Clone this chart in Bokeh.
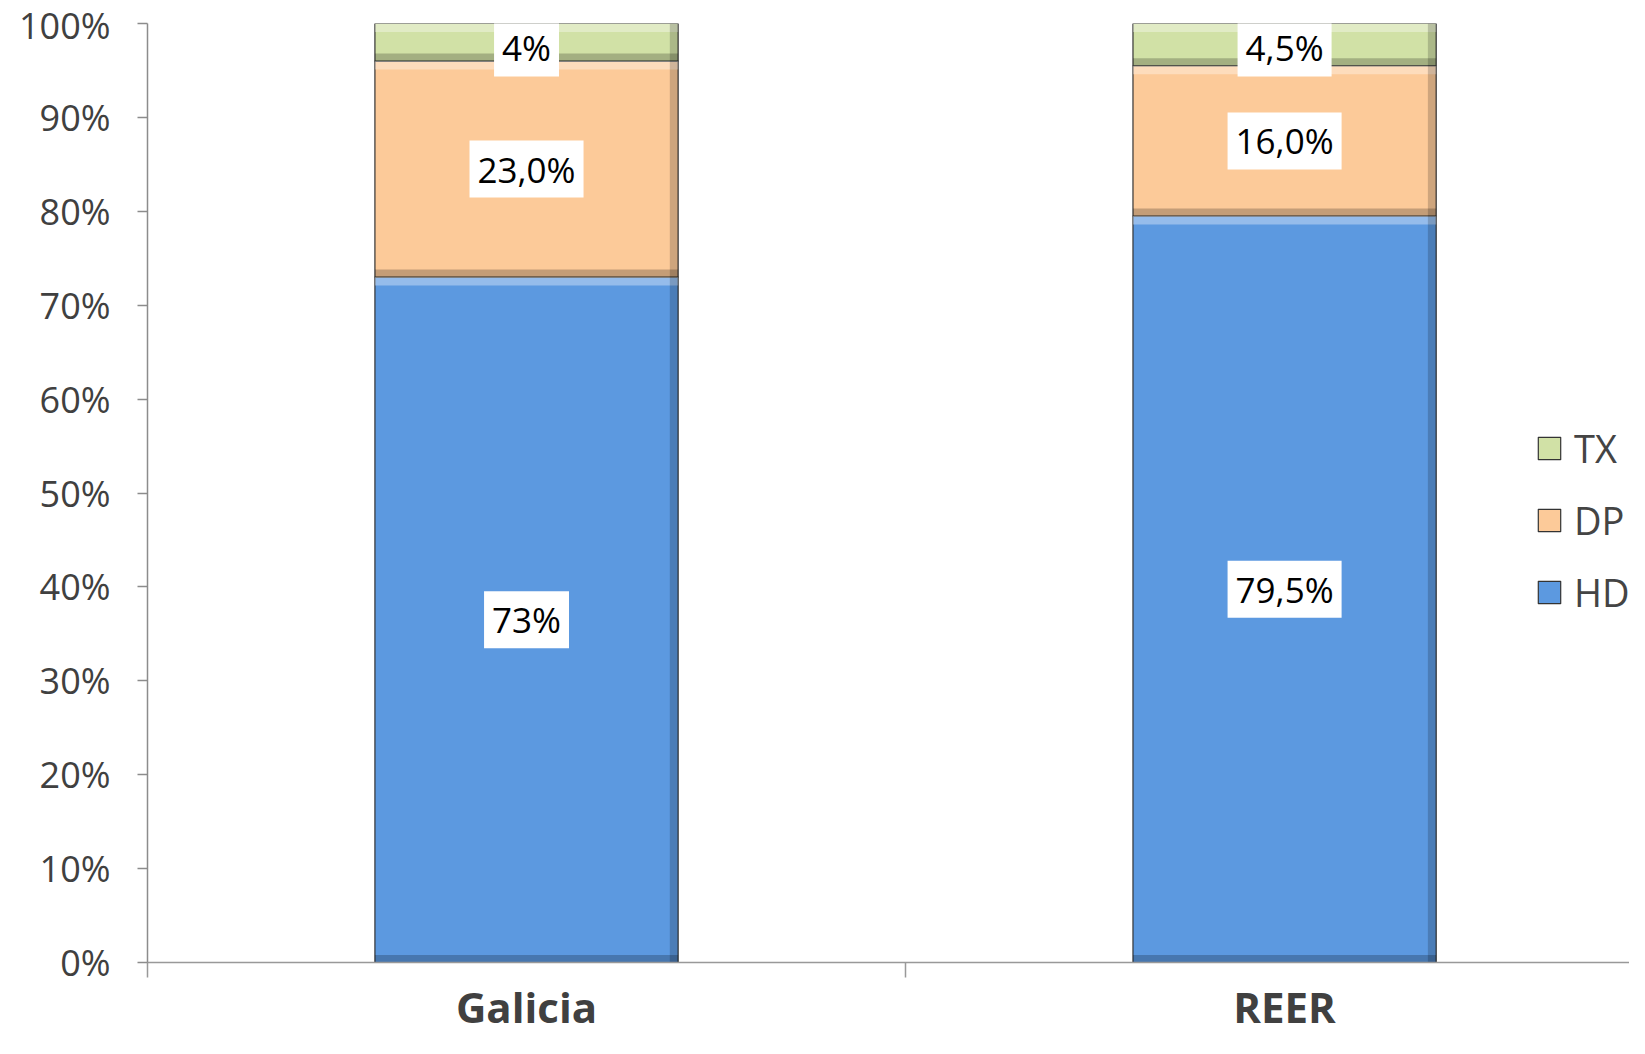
from bokeh.plotting import figure
from bokeh.models import ColumnDataSource, FixedTicker, Legend, LegendItem, Range1d
from bokeh.core.properties import value
from bokeh.embed import file_html
from bokeh.resources import INLINE

# ---- data ----
categories = ["Galicia", "REER"]
series = ["HD", "DP", "TX"]
hd = [73.0, 79.5]
dp = [23.0, 16.0]
tx = [4.0, 4.5]
hd_labels = ["73%", "79,5%"]
dp_labels = ["23,0%", "16,0%"]
tx_labels = ["4%", "4,5%"]
y_ticks = [0, 10, 20, 30, 40, 50, 60, 70, 80, 90, 100]
y_tick_labels = ["0%", "10%", "20%", "30%", "40%", "50%", "60%", "70%", "80%", "90%", "100%"]

colors = {"HD": "#5C99E0", "DP": "#FCCA99", "TX": "#D1E1A6"}
FONT = "Open Sans"
BAR_W = 0.4

x = [i + 0.5 for i in range(len(categories))]
src = ColumnDataSource(dict(x=x, HD=hd, DP=dp, TX=tx))

p = figure(width=1629, height=1038, output_backend="svg", toolbar_location=None,
           x_range=Range1d(0, 1.955), y_range=Range1d(0, 100),
           min_border_left=147, min_border_right=0, min_border_top=23, min_border_bottom=76)
p.outline_line_color = None
p.xgrid.visible = False
p.ygrid.visible = False

renderers = p.vbar_stack(series, x="x", width=BAR_W, source=src,
                         fill_color=[colors[s] for s in series],
                         line_color="#333333", line_width=1.2)
rmap = dict(zip(series, renderers))

# bevel-like shading of every segment (derived from the stacked values)
bl, br, bt, bb = [], [], [], []
for i in range(len(categories)):
    base = 0.0
    for v in (hd[i], dp[i], tx[i]):
        bl.append(x[i] - BAR_W / 2); br.append(x[i] + BAR_W / 2)
        bb.append(base); bt.append(base + v)
        base += v
hl = ColumnDataSource(dict(l=bl, r=br, t=bt, b=[t - 0.9 for t in bt]))
sh = ColumnDataSource(dict(l=bl, r=br, t=[b + 0.8 for b in bb], b=bb))
rs = ColumnDataSource(dict(l=[r - 0.011 for r in br], r=br, t=bt, b=bb))
p.quad(left="l", right="r", top="t", bottom="b", source=hl, fill_color="white", fill_alpha=0.35, line_color=None)
p.quad(left="l", right="r", top="t", bottom="b", source=sh, fill_color="black", fill_alpha=0.22, line_color=None)
p.quad(left="l", right="r", top="t", bottom="b", source=rs, fill_color="black", fill_alpha=0.18, line_color=None)

# data labels
lab_x, lab_y, lab_t = [], [], []
for i in range(len(categories)):
    lab_x += [x[i]] * 3
    lab_y += [hd[i] / 2, hd[i] + dp[i] / 2, min(hd[i] + dp[i] + tx[i] / 2, 97.4)]
    lab_t += [hd_labels[i], dp_labels[i], tx_labels[i]]
lsrc = ColumnDataSource(dict(x=lab_x, y=lab_y, t=lab_t))
p.text(x="x", y="y", text="t", source=lsrc, text_font=value(FONT), text_font_size="35px",
       text_align="center", text_baseline="middle", text_color="black",
       background_fill_color="white", padding=(8, 5))

# y axis
ya = p.yaxis[0]
ya.ticker = FixedTicker(ticks=y_ticks, minor_ticks=[])
ya.major_label_overrides = {t: l for t, l in zip(y_ticks, y_tick_labels)}
ya.major_label_text_font = FONT
ya.major_label_text_font_size = "36px"
ya.major_label_text_color = "#404040"
ya.axis_line_color = "#8C8C8C"
ya.axis_line_width = 1.5
ya.major_tick_line_color = "#8C8C8C"
ya.major_tick_line_width = 1.5
ya.major_tick_out = 10
ya.major_tick_in = 0
ya.major_label_standoff = 27

# x axis: category labels at bar centres, tick marks between categories
xa = p.xaxis[0]
xa.ticker = FixedTicker(ticks=x, minor_ticks=list(range(len(categories) + 1)))
xa.major_label_overrides = {xi: c for xi, c in zip(x, categories)}
xa.major_label_text_font = FONT
xa.major_label_text_font_size = "42px"
xa.major_label_text_font_style = "bold"
xa.major_label_text_color = "#404040"
xa.major_label_standoff = 0
xa.axis_line_color = "#999999"
xa.axis_line_width = 1.5
xa.major_tick_line_color = None
xa.major_tick_out = 0
xa.major_tick_in = 0
xa.minor_tick_line_color = "#999999"
xa.minor_tick_line_width = 1.5
xa.minor_tick_out = 15
xa.minor_tick_in = 0

legend = Legend(items=[LegendItem(label=s, renderers=[rmap[s]]) for s in reversed(series)],
                location=(1388, 344), label_text_font=FONT, label_text_font_size="38px",
                glyph_width=28, glyph_height=28, spacing=20, padding=0, margin=0,
                label_standoff=11, border_line_color=None, background_fill_alpha=0)
p.add_layout(legend)

open("out.html", "w").write(file_html(p, INLINE))
